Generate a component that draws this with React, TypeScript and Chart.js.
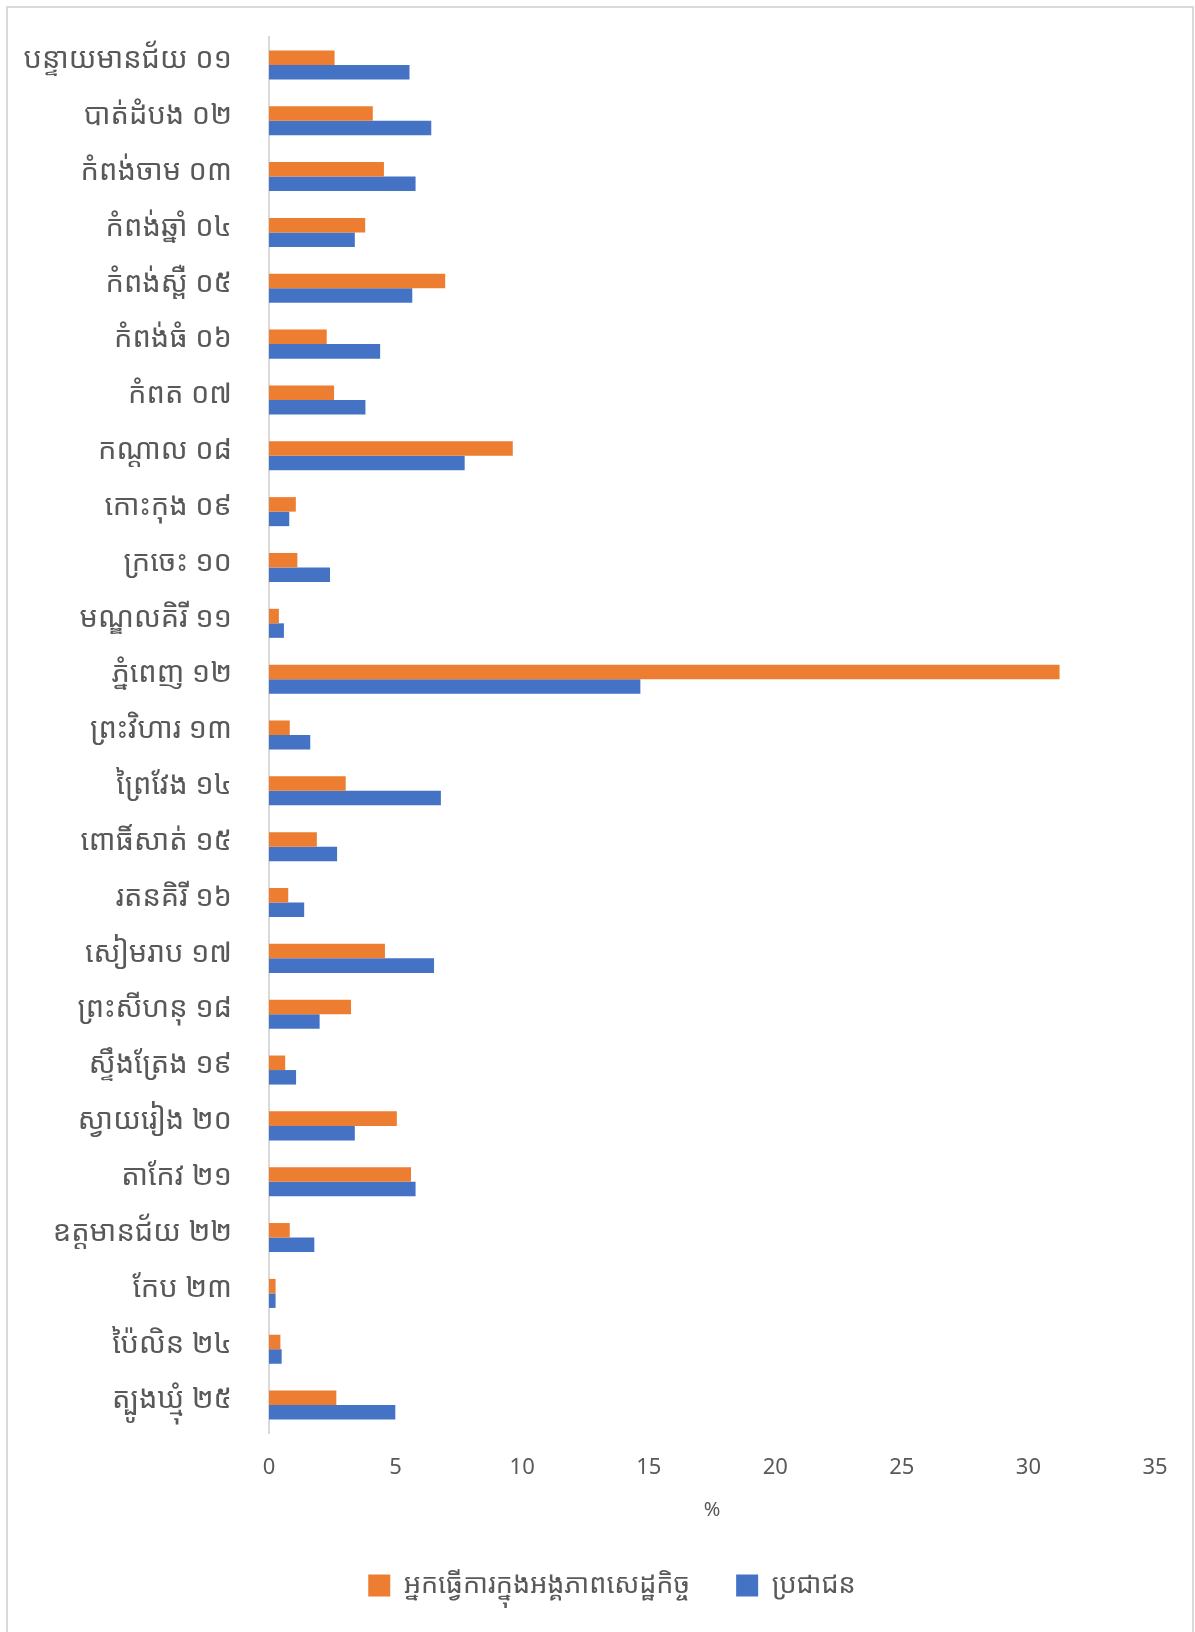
import React, { useEffect, useRef } from "react";
import { Chart, registerables } from "chart.js";

Chart.register(...registerables);

const provinces: string[] = [
  "បន្ទាយមានជ័យ ០១",
  "បាត់ដំបង ០២",
  "កំពង់ចាម ០៣",
  "កំពង់ឆ្នាំ ០៤",
  "កំពង់ស្ពឺ ០៥",
  "កំពង់ធំ ០៦",
  "កំពត ០៧",
  "កណ្ដាល ០៨",
  "កោះកុង ០៩",
  "ក្រចេះ ១០",
  "មណ្ឌលគិរី ១១",
  "ភ្នំពេញ ១២",
  "ព្រះវិហារ ១៣",
  "ព្រៃវែង ១៤",
  "ពោធិ៍សាត់ ១៥",
  "រតនគិរី ១៦",
  "សៀមរាប ១៧",
  "ព្រះសីហនុ ១៨",
  "ស្ទឹងត្រែង ១៩",
  "ស្វាយរៀង ២០",
  "តាកែវ ២១",
  "ឧត្តមានជ័យ ២២",
  "កែប ២៣",
  "ប៉ៃលិន ២៤",
  "ត្បូងឃ្មុំ ២៥",
];

const workersLabel = "អ្នកធ្វើការក្នុងអង្គភាពសេដ្ឋកិច្ច";
const populationLabel = "ប្រជាជន";

const workers: number[] = [
  2.59, 4.1, 4.54, 3.8, 6.96, 2.28, 2.57, 9.63, 1.06, 1.12, 0.39, 31.23, 0.82,
  3.03, 1.89, 0.76, 4.58, 3.24, 0.64, 5.05, 5.61, 0.82, 0.26, 0.45, 2.66,
];

const population: number[] = [
  5.55, 6.41, 5.79, 3.39, 5.66, 4.39, 3.81, 7.73, 0.8, 2.41, 0.59, 14.67, 1.63,
  6.79, 2.69, 1.39, 6.52, 2.0, 1.07, 3.39, 5.79, 1.79, 0.26, 0.5, 4.99,
];

const xTitle = "%";
const xMin = 0;
const xMax = 35;
const xStep = 5;

const FONT =
  '"Noto Sans Khmer", "Khmer OS System", "Khmer OS", "Leelawadee UI", "Open Sans", "Noto Sans", sans-serif';
const TEXT = "#595959";

const unclipYLabels = {
  id: "unclipYLabels",
  afterLayout(chart: any) {
    const y = chart.scales.y;
    if (y) y.left = 0;
  },
};

const frame = {
  id: "frame",
  beforeDraw(chart: any) {
    const ctx = chart.ctx;
    ctx.save();
    ctx.fillStyle = "#ffffff";
    ctx.fillRect(0, 0, chart.width, chart.height);
    ctx.strokeStyle = "#d9d9d9";
    ctx.lineWidth = 2;
    ctx.strokeRect(7, 7, chart.width - 8 - 7 + 6, chart.height + 20);
    ctx.restore();
  },
};

export default function App() {
  const ref = useRef<HTMLCanvasElement | null>(null);

  useEffect(() => {
    document.body.style.margin = "0";
    if (!ref.current) return;
    const chart = new Chart(ref.current, {
      type: "bar",
      data: {
        labels: provinces,
        datasets: [
          {
            label: workersLabel,
            data: workers,
            backgroundColor: "#ED7D31",
            borderWidth: 0,
          },
          {
            label: populationLabel,
            data: population,
            backgroundColor: "#4472C4",
            borderWidth: 0,
          },
        ],
      },
      plugins: [frame, unclipYLabels],
      options: {
        indexAxis: "y",
        animation: false,
        responsive: true,
        maintainAspectRatio: false,
        devicePixelRatio: 1,
        datasets: {
          bar: { barPercentage: 1, categoryPercentage: 0.52 },
        },
        layout: { padding: { top: 37, right: 40, bottom: 23, left: 69 } },
        plugins: {
          tooltip: { enabled: false },
          legend: {
            position: "bottom",
            labels: {
              color: TEXT,
              boxWidth: 22,
              boxHeight: 22,
              padding: 46,
              font: { family: FONT, size: 27 },
            },
          },
        },
        scales: {
          x: {
            type: "linear",
            min: xMin,
            max: xMax,
            ticks: {
              stepSize: xStep,
              color: TEXT,
              padding: 22,
              font: { family: FONT, size: 22 },
            },
            grid: { display: false, drawTicks: false },
            border: { display: false },
            title: {
              display: true,
              text: xTitle,
              color: TEXT,
              font: { family: FONT, size: 20 },
              padding: { top: 4, bottom: 4 },
            },
            afterFit: (scale: any) => {
              scale.height = 93;
            },
          },
          y: {
            type: "category",
            ticks: {
              color: TEXT,
              padding: 0,
              labelOffset: -5,
              autoSkip: false,
              font: { family: FONT, size: 29 },
            },
            grid: { display: false, drawTicks: true, tickLength: 37 },
            border: { display: true, color: "#d9d9d9", width: 2 },
            afterFit: (scale: any) => {
              scale.width = 200;
            },
          },
        },
      },
    });
    return () => chart.destroy();
  }, []);

  return (
    <div style={{ width: 1195, height: 1632, position: "relative" }}>
      <canvas ref={ref} />
    </div>
  );
}
